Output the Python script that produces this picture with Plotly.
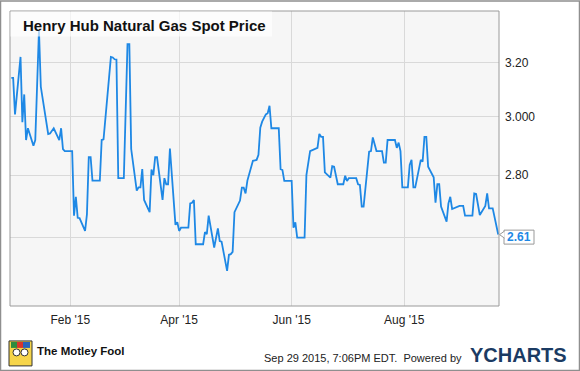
import plotly.graph_objects as go
import math

# ---------------- data ----------------
dates = [
    "2014-12-31", "2015-01-01", "2015-01-02", "2015-01-05", "2015-01-06", "2015-01-07", "2015-01-08",
    "2015-01-09", "2015-01-12", "2015-01-13", "2015-01-15", "2015-01-16", "2015-01-20", "2015-01-21",
    "2015-01-23", "2015-01-26", "2015-01-27", "2015-01-28", "2015-01-29",
    "2015-02-02", "2015-02-03", "2015-02-04", "2015-02-05", "2015-02-06", "2015-02-09", "2015-02-10",
    "2015-02-11", "2015-02-12", "2015-02-13", "2015-02-17", "2015-02-18", "2015-02-19", "2015-02-23",
    "2015-02-24", "2015-02-25", "2015-02-26", "2015-02-27",
    "2015-03-02", "2015-03-04", "2015-03-05", "2015-03-06", "2015-03-09", "2015-03-10", "2015-03-11",
    "2015-03-12", "2015-03-13", "2015-03-16", "2015-03-17", "2015-03-18", "2015-03-19", "2015-03-20",
    "2015-03-23", "2015-03-24", "2015-03-25", "2015-03-26", "2015-03-27", "2015-03-30", "2015-03-31",
    "2015-04-01", "2015-04-02", "2015-04-06", "2015-04-07", "2015-04-08", "2015-04-09", "2015-04-10",
    "2015-04-14", "2015-04-15", "2015-04-16", "2015-04-17", "2015-04-20", "2015-04-22", "2015-04-23",
    "2015-04-24", "2015-04-27", "2015-04-28", "2015-04-29", "2015-04-30",
    "2015-05-01", "2015-05-04", "2015-05-05", "2015-05-06", "2015-05-07", "2015-05-08", "2015-05-11",
    "2015-05-13", "2015-05-14", "2015-05-15", "2015-05-16", "2015-05-18", "2015-05-19", "2015-05-20",
    "2015-05-21", "2015-05-25", "2015-05-26", "2015-05-27", "2015-05-28",
    "2015-06-01", "2015-06-02", "2015-06-03", "2015-06-04", "2015-06-08", "2015-06-09", "2015-06-11",
    "2015-06-14", "2015-06-15", "2015-06-16", "2015-06-17", "2015-06-18", "2015-06-19", "2015-06-22",
    "2015-06-23", "2015-06-24", "2015-06-26", "2015-06-29", "2015-06-30",
    "2015-07-01", "2015-07-02", "2015-07-06", "2015-07-07", "2015-07-08", "2015-07-09", "2015-07-10",
    "2015-07-13", "2015-07-14", "2015-07-15", "2015-07-17", "2015-07-20", "2015-07-21", "2015-07-22",
    "2015-07-23", "2015-07-27", "2015-07-28", "2015-07-29", "2015-07-30", "2015-07-31",
    "2015-08-03", "2015-08-04", "2015-08-05", "2015-08-06", "2015-08-07", "2015-08-10", "2015-08-11",
    "2015-08-12", "2015-08-13", "2015-08-14", "2015-08-17", "2015-08-18", "2015-08-19", "2015-08-20",
    "2015-08-21", "2015-08-24", "2015-08-25", "2015-08-26", "2015-08-27", "2015-08-31",
    "2015-09-02", "2015-09-03", "2015-09-07", "2015-09-08", "2015-09-09", "2015-09-11", "2015-09-14",
    "2015-09-15", "2015-09-16", "2015-09-18", "2015-09-21",
]

prices = [
    3.142, 3.142, 3.009, 3.221, 2.981, 3.081, 2.919, 2.960, 2.899, 2.919, 3.325, 3.109, 2.940, 2.942,
    2.960, 2.919, 2.960, 2.888, 2.881,
    2.881, 2.669, 2.729, 2.662, 2.661, 2.621, 2.673, 2.860, 2.860, 2.782, 2.782, 2.919, 2.921, 3.221,
    3.219, 3.212, 3.211, 2.790,
    2.790, 3.270, 3.270, 2.888, 2.749, 2.760, 2.760, 2.820, 2.719, 2.680, 2.819, 2.800, 2.860, 2.860,
    2.719, 2.790, 2.770, 2.770, 2.890, 2.640, 2.648,
    2.621, 2.631, 2.631, 2.708, 2.710, 2.719, 2.580, 2.580, 2.617, 2.611, 2.669, 2.570, 2.629, 2.590,
    2.588, 2.500, 2.548, 2.550, 2.557,
    2.680, 2.717, 2.759, 2.759, 2.740, 2.782, 2.848, 2.851, 2.868, 2.962, 2.983, 3.009, 3.013, 3.040,
    2.960, 2.960, 2.820, 2.817, 2.781,
    2.781, 2.631, 2.648, 2.600, 2.600, 2.800, 2.881, 2.888, 2.892, 2.940, 2.930, 2.930, 2.809, 2.792,
    2.830, 2.828, 2.770, 2.770, 2.798,
    2.781, 2.790, 2.790, 2.770, 2.768, 2.698, 2.698, 2.879, 2.881, 2.928, 2.881, 2.881, 2.842, 2.842,
    2.919, 2.919, 2.892, 2.910, 2.881, 2.760,
    2.760, 2.834, 2.851, 2.760, 2.760, 2.851, 2.845, 2.930, 2.930, 2.828, 2.793, 2.710, 2.770, 2.770,
    2.698, 2.650, 2.708, 2.729, 2.690, 2.700,
    2.700, 2.669, 2.669, 2.740, 2.738, 2.671, 2.700, 2.740, 2.692, 2.692, 2.610,
]

y_tick_vals = [2.6, 2.8, 3.0, 3.2]
y_tick_text = ["", "2.80", "3.000", "3.20"]
title_text = "Henry Hub Natural Gas Spot Price"
last_label = "2.61"
footer_text = "Sep 29 2015, 7:06PM EDT.  Powered by"

# ---------------- styling / layout ----------------
W, H = 580, 371
PL, PR, PT, PB = 10, 499, 10.5, 306
BLUE = "#1e88e5"
FONT = "Liberation Sans, Arial, sans-serif"


def px(x):
    return (x - PL) / (PR - PL)


def py(y):
    return 1 - (y - PT) / (PB - PT)


fig = go.Figure()
fig.add_trace(go.Scatter(
    x=dates, y=prices, mode="lines",
    line=dict(color=BLUE, width=1.8),
    hoverinfo="skip", showlegend=False,
))

shapes = [
    # plot frame
    dict(type="rect", xref="paper", yref="paper", x0=0, x1=1, y0=0, y1=1,
         line=dict(color="#9a9a9a", width=1), fillcolor="rgba(0,0,0,0)", layer="above"),
    # outer image border
    dict(type="rect", xref="paper", yref="paper", x0=px(0.5), x1=px(579.5), y0=py(370.5), y1=py(0.5),
         line=dict(color="#8f8f8f", width=1.5), fillcolor="rgba(0,0,0,0)", layer="above"),
    # title backdrop
    dict(type="rect", xref="paper", yref="paper", x0=px(10.5), x1=px(272), y0=py(36), y1=py(11),
         line=dict(width=0), fillcolor="rgba(255,255,255,0.65)", layer="above"),
    # last value callout box
    dict(type="rect", xref="paper", yref="paper", x0=px(504), x1=px(534), y0=py(244), y1=py(230),
         line=dict(color="#999999", width=1), fillcolor="white", layer="above"),
    dict(type="path", xref="paper", yref="paper",
         path=f"M {px(504.5)},{py(231)} L {px(499.5)},{py(234.5)} L {px(504.5)},{py(238)}",
         line=dict(color="#999999", width=1), fillcolor="white", layer="above"),
    # Motley Fool logo (approximation)
    dict(type="rect", xref="paper", yref="paper", x0=px(9), x1=px(32), y0=py(366), y1=py(341),
         line=dict(color="#333333", width=1), fillcolor="#f6d54a", layer="above"),
    dict(type="rect", xref="paper", yref="paper", x0=px(11), x1=px(17), y0=py(348), y1=py(342),
         line=dict(width=0), fillcolor="#2e8b3e", layer="above"),
    dict(type="rect", xref="paper", yref="paper", x0=px(17), x1=px(23), y0=py(348), y1=py(342),
         line=dict(width=0), fillcolor="#d9342b", layer="above"),
    dict(type="rect", xref="paper", yref="paper", x0=px(23), x1=px(30), y0=py(348), y1=py(342),
         line=dict(width=0), fillcolor="#2a63b8", layer="above"),
    dict(type="circle", xref="paper", yref="paper", x0=px(13), x1=px(20), y0=py(356), y1=py(349),
         line=dict(color="#333", width=1), fillcolor="white", layer="above"),
    dict(type="circle", xref="paper", yref="paper", x0=px(21), x1=px(28), y0=py(356), y1=py(349),
         line=dict(color="#333", width=1), fillcolor="white", layer="above"),
]

annotations = [
    dict(xref="paper", yref="paper", x=px(21), y=py(25), xanchor="left", yanchor="middle",
         text=f"<b>{title_text}</b>", showarrow=False,
         font=dict(family=FONT, size=15, color="#111111")),
    dict(xref="paper", yref="paper", x=px(519), y=py(237), xanchor="center", yanchor="middle",
         text=f"<b>{last_label}</b>", showarrow=False,
         font=dict(family=FONT, size=12, color=BLUE)),
    dict(xref="paper", yref="paper", x=px(35), y=py(351), xanchor="left", yanchor="middle",
         text="<b>The Motley Fool</b>", showarrow=False,
         font=dict(family=FONT, size=11.5, color="#111111")),
    dict(xref="paper", yref="paper", x=px(464), y=py(358), xanchor="right", yanchor="middle",
         text=footer_text, showarrow=False,
         font=dict(family=FONT, size=11, color="#222222")),
    dict(xref="paper", yref="paper", x=px(518), y=py(355), xanchor="center", yanchor="middle",
         text="<b>YCHARTS</b>", showarrow=False,
         font=dict(family=FONT, size=20, color="#1b3b63")),
]

fig.update_layout(
    width=W, height=H,
    margin=dict(l=PL, r=W - PR, t=PT, b=H - PB, pad=0),
    paper_bgcolor="white",
    plot_bgcolor="#f6f6f6",
    font=dict(family=FONT, size=12, color="#222222"),
    showlegend=False,
    shapes=shapes,
    annotations=annotations,
    xaxis=dict(
        type="date",
        range=["2014-12-30 07:00", "2015-09-21 10:00"],
        tick0="2015-02-01", dtick="M2", tickformat="%b '%y",
        showgrid=True, gridcolor="#d9d9d9", gridwidth=1,
        zeroline=False, showline=False,
        ticks="outside", ticklen=3, tickcolor="rgba(0,0,0,0)",
        tickfont=dict(family=FONT, size=12, color="#222222"),
        fixedrange=True,
    ),
    yaxis=dict(
        type="log", side="right",
        range=[math.log10(2.398), math.log10(3.401)],
        tickmode="array", tickvals=y_tick_vals, ticktext=y_tick_text,
        showgrid=True, gridcolor="#d9d9d9", gridwidth=1,
        zeroline=False, showline=False, ticks="",
        ticklabelstandoff=5,
        tickfont=dict(family=FONT, size=12, color="#222222"),
        fixedrange=True,
    ),
)

fig.write_html("out.html", config={"displayModeBar": False})
